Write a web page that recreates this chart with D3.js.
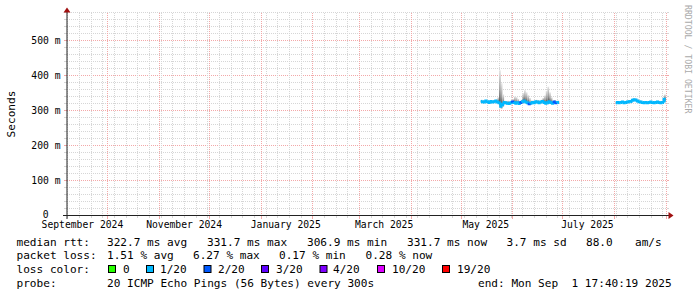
<!DOCTYPE html>
<html>
<head>
<meta charset="utf-8">
<script src="https://cdn.jsdelivr.net/npm/d3@7"></script>
<style>
html, body { margin: 0; padding: 0; background: #fff; }
svg { display: block; font-family: "DejaVu Sans Mono", monospace; }
</style>
</head>
<body>
<div id="chart"></div>
<script>
(function () {

// ---- data ----
const startTime = new Date(Date.UTC(2024, 8, 6, 17, 40, 19));
const endTime = new Date(Date.UTC(2025, 8, 1, 17, 40, 19));

const yMax = 580;
const yLabelValues = [0, 100, 200, 300, 400, 500];
const yLabelTexts = ["0", "100 m", "200 m", "300 m", "400 m", "500 m"];

const monthLabelDates = ["2024-09-01", "2024-11-01", "2025-01-01", "2025-03-01", "2025-05-01", "2025-07-01"];
const monthLabelTexts = ["September 2024", "November 2024", "January 2025", "March 2025", "May 2025", "July 2025"];

// first block of measurements, one value per day from 13 May 2025
const segAStart = "2025-05-13";
const medA = [326,325,324,327,325,323,326,324,325,327,324,322,312,318,323,322,321,320,322,324,
              323,321,322,320,323,325,327,324,322,319,321,323,322,325,324,322,324,326,323,321,
              322,325,323,321,324,322,323];
const maxA = [330,329,328,331,329,327,330,328,330,332,338,415,378,346,328,327,328,326,329,333,
              340,338,333,326,331,350,358,352,344,336,329,329,328,331,330,328,331,336,343,356,
              368,352,338,328,330,328,329];
const minA = [323,322,321,324,322,320,323,321,322,323,320,306,304,310,320,319,318,317,319,321,
              319,318,319,317,320,321,322,320,318,315,318,320,319,322,321,319,321,322,319,317,
              318,321,319,318,320,319,320];
const lossA = [0.4,0.3,0.3,0.5,0.3,0.2,0.4,0.3,0.3,0.5,0.6,0.9,0.8,0.7,0.3,0.3,0.4,0.3,0.5,2.1,
               0.4,0.3,0.4,0.3,2.2,0.5,0.6,0.4,0.5,2.1,0.4,0.3,0.3,0.4,0.3,0.3,0.4,0.5,0.6,0.7,
               0.6,0.5,0.4,0.3,2.1,2.2,0.3];

// second block, from 2 August 2025
const segBStart = "2025-08-02";
const medB = [322,323,322,323,324,322,323,324,325,326,329,331,330,327,325,324,323,322,323,322,
              323,324,323,322,323,324,323,322,323,332];
const maxB = [325,326,325,326,327,325,326,327,329,330,333,335,334,331,329,328,326,325,327,325,
              326,328,326,325,326,328,327,326,330,346];
const minB = [320,321,320,321,322,320,321,322,323,323,326,328,327,324,322,321,321,320,321,320,
              321,322,321,320,321,322,321,320,321,323];
const lossB = [0.3,0.2,0.3,0.2,0.3,0.2,0.2,0.3,0.3,0.2,0.3,0.4,0.3,0.2,0.2,0.3,0.2,0.2,0.3,0.2,
               0.2,0.3,0.2,0.2,0.3,0.2,0.2,0.3,0.3,0.4];

const lossSteps = [0, 1, 2, 3, 4, 10, 19];
const lossNames = ["0", "1/20", "2/20", "3/20", "4/20", "10/20", "19/20"];
const lossColors = ["#26ff00", "#00b8ff", "#0059ff", "#5e00ff", "#7e00ff", "#dd00ff", "#ff0000"];

const legendRows = [
  [["median rtt:", 16.5], ["322.7 ms avg", 107], ["331.7 ms max", 207], ["306.9 ms min", 307],
   ["331.7 ms now", 407], ["3.7 ms sd", 506.5], ["88.0", 586], ["am/s", 635]],
  [["packet loss:", 16.5], ["1.51 % avg", 107], ["6.27 % max", 193], ["0.17 % min", 279], ["0.28 % now", 365.5]],
  [["loss color:", 16.5]],
  [["probe:", 16.5], ["20 ICMP Echo Pings (56 Bytes) every 300s", 107], ["end: Mon Sep  1 17:40:19 2025", 478]]
];
const lossBoxX = [108.5, 146.5, 204, 261.5, 320, 377.5, 442.5];
const lossTextX = [123, 160, 218, 276, 333, 392, 457];

// ---- layout ----
const W = 697, H = 297;
const left = 67, right = 667, bottom = 215.5, top = 12.5;

const svg = d3.select("#chart").append("svg")
    .attr("width", W)
    .attr("height", H);

const x = d3.scaleUtc().domain([startTime, endTime]).range([left, right]);
const y = d3.scaleLinear().domain([0, yMax]).range([bottom, top]);
const px = v => Math.round(v) + 0.5;

const minorCol = "#d6d6d6", majorCol = "#f3a8a8";

// horizontal grid
const g = svg.append("g").attr("shape-rendering", "crispEdges");
d3.range(20, yMax + 1, 20).forEach(v => {
  const major = v % 100 === 0;
  const yy = y(v);
  g.append("line").attr("x1", left).attr("x2", right).attr("y1", yy).attr("y2", yy)
    .attr("stroke", major ? majorCol : minorCol).attr("stroke-dasharray", "1,1");
  g.append("line").attr("x1", left - 3).attr("x2", left).attr("y1", yy).attr("y2", yy)
    .attr("stroke", major ? majorCol : minorCol);
  g.append("line").attr("x1", right).attr("x2", right + 2).attr("y1", yy).attr("y2", yy)
    .attr("stroke", major ? majorCol : minorCol);
});

// vertical grid: weekly minor, monthly major
const weeks = d3.utcSaturday.range(startTime, endTime);
const months = d3.utcMonth.range(startTime, endTime);
weeks.forEach(d => {
  const xx = px(x(d));
  g.append("line").attr("x1", xx).attr("x2", xx).attr("y1", top).attr("y2", bottom)
    .attr("stroke", minorCol).attr("stroke-dasharray", "1,1");
  g.append("line").attr("x1", xx).attr("x2", xx).attr("y1", bottom).attr("y2", bottom + 2)
    .attr("stroke", minorCol);
});
months.forEach(d => {
  const xx = px(x(d));
  g.append("line").attr("x1", xx).attr("x2", xx).attr("y1", top).attr("y2", bottom)
    .attr("stroke", majorCol).attr("stroke-dasharray", "1,1");
  g.append("line").attr("x1", xx).attr("x2", xx).attr("y1", bottom).attr("y2", bottom + 3)
    .attr("stroke", majorCol);
});

// smoke gradients
const defs = svg.append("defs");
const gUp = defs.append("linearGradient").attr("id", "smokeUp").attr("x1", 0).attr("y1", 1).attr("x2", 0).attr("y2", 0);
gUp.append("stop").attr("offset", 0).attr("stop-color", "#444");
gUp.append("stop").attr("offset", 0.4).attr("stop-color", "#9a9a9a");
gUp.append("stop").attr("offset", 1).attr("stop-color", "#e6e6e6");
const gDn = defs.append("linearGradient").attr("id", "smokeDn").attr("x1", 0).attr("y1", 0).attr("x2", 0).attr("y2", 1);
gDn.append("stop").attr("offset", 0).attr("stop-color", "#444");
gDn.append("stop").attr("offset", 0.4).attr("stop-color", "#9a9a9a");
gDn.append("stop").attr("offset", 1).attr("stop-color", "#e6e6e6");

function buildSeries(startStr, med, mx, mn, loss) {
  const t0 = d3.utcParse("%Y-%m-%d")(startStr);
  return med.map((m, i) => ({
    t0: d3.utcDay.offset(t0, i),
    t1: d3.utcDay.offset(t0, i + 1),
    med: m, max: mx[i], min: mn[i], loss: loss[i]
  }));
}
const series = [
  buildSeries(segAStart, medA, maxA, minA, lossA),
  buildSeries(segBStart, medB, maxB, minB, lossB)
];

function lossColor(l) {
  let c = lossColors[0];
  if (l > 0) c = lossColors[1];
  for (let k = 2; k < lossSteps.length; k++) if (l >= lossSteps[k]) c = lossColors[k];
  return c;
}

const data = svg.append("g");
series.forEach(seg => {
  data.selectAll(null).data(seg).join("rect")
    .attr("x", d => x(d.t0)).attr("width", d => x(d.t1) - x(d.t0))
    .attr("y", d => y(d.max)).attr("height", d => Math.max(0.5, y(d.med) - y(d.max)))
    .attr("fill", "url(#smokeUp)");
  data.selectAll(null).data(seg).join("rect")
    .attr("x", d => x(d.t0)).attr("width", d => x(d.t1) - x(d.t0))
    .attr("y", d => y(d.med)).attr("height", d => Math.max(0.5, y(d.min) - y(d.med)))
    .attr("fill", "url(#smokeDn)");
  // median, step line coloured by loss
  data.selectAll(null).data(seg).join("path")
    .attr("d", (d, i) => {
      const prev = i > 0 ? seg[i - 1].med : d.med;
      return "M" + x(d.t0) + "," + y(prev) + "V" + y(d.med) + "H" + x(d.t1);
    })
    .attr("fill", "none")
    .attr("stroke", d => lossColor(d.loss))
    .attr("stroke-width", 3);
});

// axes
const ax = svg.append("g");
ax.append("line").attr("x1", 67).attr("x2", 67).attr("y1", 219).attr("y2", 11)
  .attr("stroke", "#222");
ax.append("line").attr("x1", 63).attr("x2", 669).attr("y1", 215.5).attr("y2", 215.5)
  .attr("stroke", "#222");
ax.append("path").attr("d", "M63.5,12.5L70.5,12.5L67,7.5Z").attr("fill", "#a01010");
ax.append("path").attr("d", "M668.5,212L668.5,219L673.5,215.5Z").attr("fill", "#a01010");

// y labels
svg.append("g").selectAll("text").data(yLabelValues).join("text")
  .attr("x", (d, i) => i === 0 ? 48.5 : 60.5)
  .attr("y", d => y(d) + (d === 0 ? 2.5 : 3.5))
  .attr("text-anchor", "end")
  .attr("font-size", "9.7px")
  .attr("fill", "#000")
  .text((d, i) => yLabelTexts[i]);

// x labels, centred half a month after the month start
svg.append("g").selectAll("text").data(monthLabelDates).join("text")
  .attr("x", d => x(d3.utcDay.offset(d3.utcParse("%Y-%m-%d")(d), 15)))
  .attr("y", 227.5)
  .attr("text-anchor", "middle")
  .attr("font-size", "9.7px")
  .attr("fill", "#000")
  .text((d, i) => monthLabelTexts[i]);

// axis title
svg.append("text")
  .attr("transform", "translate(15,114) rotate(-90)")
  .attr("text-anchor", "middle")
  .attr("font-size", "11.1px")
  .text("Seconds");

// watermark
svg.append("text")
  .attr("transform", "translate(685,5) rotate(90)")
  .attr("font-size", "8.2px")
  .attr("fill", "#aaa")
  .text("RRDTOOL / TOBI OETIKER");

// legend
const lg = svg.append("g").attr("font-size", "11.1px").attr("fill", "#000");
legendRows.forEach((row, r) => {
  row.forEach(([txt, xx]) => {
    lg.append("text").attr("x", xx).attr("y", 245.5 + r * 13.9)
      .attr("xml:space", "preserve").style("white-space", "pre")
      .text(txt);
  });
});
lossColors.forEach((c, k) => {
  lg.append("rect").attr("x", lossBoxX[k]).attr("y", 265.5).attr("width", 7).attr("height", 7)
    .attr("fill", c).attr("stroke", "#000");
  lg.append("text").attr("x", lossTextX[k]).attr("y", 245.5 + 2 * 13.9).text(lossNames[k]);
});

})();
</script>
</body>
</html>
